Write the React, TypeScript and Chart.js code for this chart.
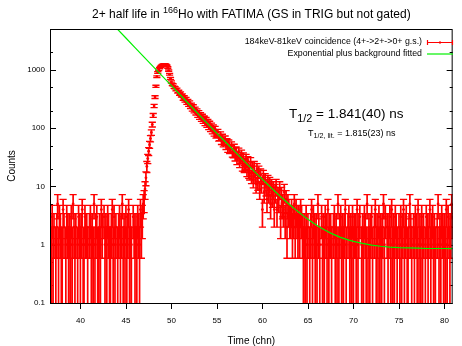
import React, { useEffect, useRef } from 'react';
import { Chart, registerables } from 'chart.js';

Chart.register(...registerables);

// ---------- data ----------
const channelStart = 36.7;
const channelStep = 0.1;

// counts per bin, 36.7 .. 46.9
const bgLeftCounts = [
  2, 1, 3, 1, 2, 0, 1, 2, 5, 1,
  3, 2, 1, 1, 4, 2, 0, 1, 3, 2,
  1, 2, 1, 3, 1, 5, 2, 1, 2, 0,
  1, 3, 2, 1, 2, 4, 1, 1, 3, 2,
  2, 1, 0, 2, 3, 1, 2, 1, 5, 1,
  2, 3, 1, 1, 2, 1, 4, 2, 0, 3,
  1, 2, 1, 3, 2, 1, 1, 2, 4, 1,
  3, 1, 2, 0, 1, 2, 3, 1, 2, 5,
  1, 2, 1, 3, 1, 2, 4, 1, 2, 1,
  0, 3, 2, 1, 2, 1, 3, 2, 1, 4,
  2, 3, 5,
];
// 47.0 .. 49.2
const riseCounts = [6, 9, 14, 22, 30, 40, 52, 66, 84, 115, 165, 240, 340, 520, 760, 900, 1000, 1070, 1120, 1165, 1200, 1225, 1240];
// 49.3 .. 63.0
const decayCounts = [
  1235, 1218, 1172, 1095, 968, 835, 712,
  618, 560, 548, 500, 492, 455, 462, 420, 425, 385,
  398, 360, 366, 318, 340, 296, 318, 272, 293, 251,
  275, 232, 252, 209, 236, 196, 214, 181, 199, 166,
  186, 153, 171, 142, 160, 132, 149, 121, 140, 113,
  129, 104, 120, 97, 111, 89, 103, 82, 97, 76,
  78, 86, 68, 69, 77, 60, 70, 55, 58, 65,
  50, 58, 45, 55, 43, 44, 51, 38, 37, 46,
  33, 41, 29, 33, 39, 26, 30, 36, 23, 32,
  22, 24, 30, 19, 27, 18, 17, 26, 15, 22,
  13, 22, 15, 11, 20, 12, 18, 9, 16, 11,
  4, 15, 8, 13, 10, 6, 12, 8, 11, 5,
  10, 7, 9, 4, 8, 10, 4, 7, 6, 9,
  3, 7, 5, 4, 8, 3, 6, 2, 5, 4,
  3,
];
// 63.1 .. 80.9
const bgRightCounts = [
  3, 4, 2, 3, 5, 2, 4, 3, 2, 3, 2, 4, 3, 2, 1,
  2, 1, 3, 1, 2, 0, 1, 2, 4, 1,
  3, 2, 1, 2, 1, 5, 2, 1, 0, 3,
  1, 2, 1, 3, 2, 1, 4, 1, 2, 2,
  1, 0, 2, 3, 1, 2, 1, 5, 1, 2,
  3, 1, 2, 1, 2, 4, 1, 0, 2, 3,
  1, 2, 1, 3, 1, 2, 2, 1, 4, 1,
  2, 3, 0, 1, 2, 1, 3, 2, 1, 5,
  1, 2, 1, 2, 3, 1, 0, 2, 4, 1,
  2, 1, 3, 1, 2, 1, 2, 5, 1, 3,
  0, 2, 1, 2, 3, 1, 4, 1, 2, 1,
  3, 2, 1, 0, 2, 1, 3, 1, 2, 4,
  1, 2, 3, 1, 1, 2, 5, 2, 1, 0,
  2, 1, 3, 2, 1, 4, 1, 2, 1, 3,
  1, 2, 0, 1, 3, 2, 1, 2, 4, 1,
  2, 3, 1, 2, 1, 0, 2, 5, 1, 2,
  1, 3, 2, 1, 2, 1, 4, 1, 3, 2,
  1, 2, 5, 3,
];

const counts = [...bgLeftCounts, ...riseCounts, ...decayCounts, ...bgRightCounts];
const channels = counts.map((_, i) => +(channelStart + i * channelStep).toFixed(2));

// fitted curve (exponential plus background)
const fitX = [44, 45, 46, 47, 48, 49, 50, 51, 52, 53, 54, 55, 56, 57, 58, 59, 60, 60.5, 61, 61.5, 62, 62.5, 63, 63.5, 64, 64.5, 65, 65.5, 66, 66.5, 67, 67.5, 68, 68.5, 69, 69.5, 70, 71, 72, 73, 74, 75, 76, 77, 78, 79, 80, 81];
const fitY = [5099, 3500, 2402, 1648, 1131, 776, 533, 366, 251, 172, 118, 81.1, 56.5, 39.0, 27.06, 18.84, 13.2, 11.08, 9.32, 7.87, 6.67, 5.67, 4.84, 4.16, 3.59, 3.12, 2.73, 2.41, 2.14, 1.92, 1.74, 1.58, 1.46, 1.35, 1.27, 1.2, 1.14, 1.05, 0.98, 0.94, 0.91, 0.89, 0.88, 0.87, 0.86, 0.86, 0.86, 0.855];

const xTicks = [40, 45, 50, 55, 60, 65, 70, 75, 80];
const xTickLabels = ['40', '45', '50', '55', '60', '65', '70', '75', '80'];
const yTicks = [0.1, 1, 10, 100, 1000];
const yTickLabels = ['0.1', '1', '10', '100', '1000'];
const yMinorTicks = [0.2, 0.5, 2, 5, 20, 50, 200, 500, 2000];

const xMin = 36.66;
const xMax = 80.9;
const yMin = 0.1;
const yMax = 5000;

const titleBefore = '2+ half life in ';
const titleSup = '166';
const titleAfter = 'Ho with FATIMA (GS in TRIG but not gated)';
const legendData = '184keV-81keV coincidence (4+->2+->0+ g.s.)';
const legendFit = 'Exponential plus background fitted';
const xTitle = 'Time (chn)';
const yTitle = 'Counts';

const FF = "'Liberation Sans', Arial, Helvetica, sans-serif";
const RED = '#ff0000';
const GREEN = '#00f000';

const CAP = 3.6;

const decorPlugin = {
  id: 'decor',
  beforeDatasetsDraw(chart: any) {
    const { ctx, chartArea: ca, scales } = chart;
    const x = scales.x;
    const y = scales.y;
    ctx.save();
    // inward y ticks left & right
    ctx.strokeStyle = '#000';
    ctx.lineWidth = 1;
    ctx.beginPath();
    yTicks.forEach((v) => {
      const py = Math.round(y.getPixelForValue(v)) + 0.5;
      ctx.moveTo(ca.left, py); ctx.lineTo(ca.left + 6, py);
      ctx.moveTo(ca.right, py); ctx.lineTo(ca.right - 6, py);
    });
    yMinorTicks.forEach((v) => {
      const py = Math.round(y.getPixelForValue(v)) + 0.5;
      ctx.moveTo(ca.left, py); ctx.lineTo(ca.left + 3, py);
      ctx.moveTo(ca.right, py); ctx.lineTo(ca.right - 3, py);
    });
    // outward x ticks
    xTicks.forEach((v) => {
      const px = Math.round(x.getPixelForValue(v)) + 0.5;
      ctx.moveTo(px, ca.bottom); ctx.lineTo(px, ca.bottom + 6);
    });
    ctx.stroke();

    // error bars
    ctx.beginPath();
    ctx.rect(ca.left, ca.top, ca.right - ca.left, ca.bottom - ca.top);
    ctx.clip();
    ctx.strokeStyle = RED;
    const bars = new Path2D();
    const caps = new Path2D();
    counts.forEach((c, i) => {
      if (c <= 0) return;
      const e = Math.sqrt(c);
      const px = x.getPixelForValue(channels[i]);
      const hi = c + e;
      const lo = c - e;
      const pTop = y.getPixelForValue(hi);
      const pBot = lo > 0 ? y.getPixelForValue(lo) : ca.bottom;
      bars.moveTo(px, pTop); bars.lineTo(px, pBot);
      caps.moveTo(px - CAP, pTop); caps.lineTo(px + CAP, pTop);
      if (lo > 0) { caps.moveTo(px - CAP, pBot); caps.lineTo(px + CAP, pBot); }
    });
    ctx.lineWidth = 1.7;
    ctx.stroke(bars);
    ctx.lineWidth = 1.3;
    ctx.stroke(caps);
    ctx.restore();
  },
  afterDraw(chart: any) {
    const { ctx, chartArea: ca } = chart;
    ctx.save();
    // frame
    ctx.strokeStyle = '#000';
    ctx.lineWidth = 1;
    ctx.strokeRect(ca.left + 0.5, ca.top + 0.5, ca.right - ca.left - 1, ca.bottom - ca.top);

    ctx.fillStyle = '#000';
    ctx.textAlign = 'left';
    ctx.textBaseline = 'alphabetic';

    // title
    ctx.font = `12px ${FF}`;
    const w1 = ctx.measureText(titleBefore).width;
    const w3 = ctx.measureText(titleAfter).width;
    ctx.font = `9px ${FF}`;
    const w2 = ctx.measureText(titleSup).width;
    const cx = (ca.left + ca.right) / 2;
    const tx = cx - (w1 + w2 + w3) / 2;
    ctx.font = `12px ${FF}`;
    ctx.fillText(titleBefore, tx, 17.5);
    ctx.fillText(titleAfter, tx + w1 + w2, 17.5);
    ctx.font = `9px ${FF}`;
    ctx.fillText(titleSup, tx + w1, 13);

    // legend
    ctx.font = `8.8px ${FF}`;
    ctx.textAlign = 'right';
    ctx.textBaseline = 'middle';
    ctx.fillText(legendData, 422, 42);
    ctx.fillText(legendFit, 422, 54);
    ctx.strokeStyle = RED;
    ctx.lineWidth = 1.2;
    ctx.beginPath();
    ctx.moveTo(427, 42.5); ctx.lineTo(453, 42.5);
    ctx.moveTo(427.5, 40); ctx.lineTo(427.5, 45);
    ctx.moveTo(452.5, 40); ctx.lineTo(452.5, 45);
    ctx.stroke();
    ctx.fillStyle = RED;
    ctx.fillRect(439, 41.5, 2, 2);
    ctx.strokeStyle = GREEN;
    ctx.beginPath();
    ctx.moveTo(427, 54); ctx.lineTo(453, 54);
    ctx.stroke();

    // annotations
    ctx.fillStyle = '#000';
    ctx.textAlign = 'left';
    ctx.textBaseline = 'alphabetic';
    let ax = 289;
    ctx.font = `13.5px ${FF}`;
    ctx.fillText('T', ax, 118.3);
    ax += ctx.measureText('T').width;
    ctx.font = `10.8px ${FF}`;
    ctx.fillText('1/2', ax, 121.5);
    ax += ctx.measureText('1/2').width;
    ctx.font = `13.5px ${FF}`;
    ctx.fillText(' = 1.841(40) ns', ax, 118.3);

    let bx = 308;
    ctx.font = `9px ${FF}`;
    ctx.fillText('T', bx, 136);
    bx += ctx.measureText('T').width;
    ctx.font = `7.2px ${FF}`;
    ctx.fillText('1/2, lit.', bx, 138.2);
    bx += ctx.measureText('1/2, lit.').width;
    ctx.font = `9px ${FF}`;
    ctx.fillText(' = 1.815(23) ns', bx, 136);

    // axis titles
    ctx.font = `10px ${FF}`;
    ctx.textAlign = 'center';
    ctx.textBaseline = 'middle';
    ctx.fillText(xTitle, cx, 341);
    ctx.translate(12, (ca.top + ca.bottom) / 2);
    ctx.rotate(-Math.PI / 2);
    ctx.fillText(yTitle, 0, 0);
    ctx.restore();
  },
};

export default function App() {
  const canvasRef = useRef<HTMLCanvasElement | null>(null);

  useEffect(() => {
    const canvas = canvasRef.current;
    if (!canvas) return;
    const chart = new Chart(canvas, {
      type: 'scatter',
      data: {
        datasets: [
          {
            label: legendFit,
            data: fitX.map((v, i) => ({ x: v, y: fitY[i] })),
            showLine: true,
            borderColor: GREEN,
            borderWidth: 1.2,
            pointRadius: 0,
            fill: false,
            tension: 0,
          },
          {
            label: legendData,
            data: counts.map((c, i) => ({ x: channels[i], y: c > 0 ? c : null })),
            showLine: false,
            pointRadius: 1.4,
            pointBackgroundColor: RED,
            pointBorderWidth: 0,
            borderColor: RED,
          },
        ],
      },
      options: {
        animation: false,
        responsive: false,
        events: [],
        layout: { padding: { top: 29, right: 1, left: 0, bottom: 0 } },
        plugins: {
          legend: { display: false },
          title: { display: false },
          tooltip: { enabled: false },
        },
        scales: {
          x: {
            type: 'linear',
            min: xMin,
            max: xMax,
            grid: { display: false, drawTicks: false },
            border: { display: false },
            afterBuildTicks: (s: any) => { s.ticks = xTicks.map((v) => ({ value: v })); },
            afterFit: (s: any) => { s.height = 43; },
            ticks: {
              autoSkip: false,
              maxRotation: 0,
              padding: 13,
              color: '#000',
              font: { family: FF, size: 8 },
              callback: (v: any) => xTickLabels[xTicks.indexOf(Number(v))] ?? '',
            },
          },
          y: {
            type: 'logarithmic',
            min: yMin,
            max: yMax,
            grid: { display: false, drawTicks: false },
            border: { display: false },
            afterBuildTicks: (s: any) => { s.ticks = yTicks.map((v) => ({ value: v })); },
            afterFit: (s: any) => { s.width = 50; },
            ticks: {
              autoSkip: false,
              padding: 5,
              color: '#000',
              font: { family: FF, size: 8 },
              callback: (v: any) => {
                const idx = yTicks.findIndex((t) => Math.abs(t - Number(v)) < t * 1e-6);
                return idx >= 0 ? yTickLabels[idx] : '';
              },
            },
          },
        },
      },
      plugins: [decorPlugin],
    } as any);
    return () => chart.destroy();
  }, []);

  return (
    <div style={{ position: 'fixed', left: 0, top: 0, width: 462, height: 346, background: '#fff' }}>
      <canvas ref={canvasRef} width={462} height={346} style={{ display: 'block' }} />
    </div>
  );
}
